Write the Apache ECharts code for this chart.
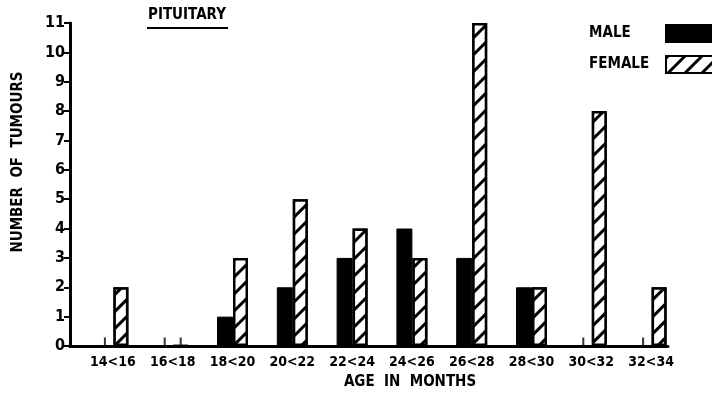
<!DOCTYPE html>
<html><head><meta charset="utf-8">
<script src="https://cdn.jsdelivr.net/npm/echarts@6/dist/echarts.min.js"></script>
<style>html,body{margin:0;padding:0;background:#fff}#c{width:712px;height:396px}</style>
</head><body><div id="c"></div>
<script>
const categories = ['14<16','16<18','18<20','20<22','22<24','24<26','26<28','28<30','30<32','32<34'];
const male =   [0,0,1,2,3,4,3,2,0,0];
const female = [2,0,3,5,4,3,11,2,8,2];
const yTicks = [0,1,2,3,4,5,6,7,8,9,10,11];

const FONT = "'DejaVu Sans Condensed','Liberation Sans Narrow','DejaVu Sans',sans-serif";
const chart = echarts.init(document.getElementById('c'));
const hatch = {symbol:'rect', symbolSize:1, dashArrayX:[1,0], dashArrayY:[3,9], rotation:-Math.PI/4, color:'#000', backgroundColor:'#fff'};

chart.setOption({
  animation:false,
  backgroundColor:'#fff',
  grid:[
    {left:83, right:31, top:23, bottom:50},
    {left:70, right:44, top:23, bottom:50}
  ],
  xAxis:[
    {type:'category', gridIndex:0, data:categories, axisLine:{show:false}, axisTick:{show:false},
     axisLabel:{margin:9, color:'#000', fontFamily:FONT, fontWeight:'bold', fontSize:14}},
    {type:'value', gridIndex:1, min:0, max:1, axisLine:{show:true, lineStyle:{color:'#000', width:3}},
     axisTick:{show:false}, axisLabel:{show:false}, splitLine:{show:false},
     name:'AGE  IN  MONTHS', nameLocation:'middle', nameGap:29,
     nameTextStyle:{color:'#000', fontFamily:FONT, fontWeight:'bold', fontSize:15, padding:[0,0,0,82]}}
  ],
  yAxis:[
    {type:'value', gridIndex:0, min:0, max:11, interval:1, show:false},
    {type:'value', gridIndex:1, min:0, max:11, interval:1,
     axisLine:{show:true, lineStyle:{color:'#000', width:3}},
     axisTick:{show:true, length:6, lineStyle:{color:'#000', width:2}},
     axisLabel:{margin:5, color:'#000', fontFamily:FONT, fontWeight:'bold', fontSize:16,
       formatter:v=>yTicks.includes(v)?String(v):''},
     splitLine:{show:false}}
  ],
  legend:{
    orient:'vertical', right:-12, top:19, align:'right', itemGap:12, itemWidth:52, itemHeight:17,
    icon:'rect',
    data:['MALE','FEMALE'],
    formatter:n=>'{t|'+n+'}',
    textStyle:{color:'#000', rich:{t:{width:72, align:'left', fontFamily:FONT, fontWeight:'bold', fontSize:15, color:'#000'}}}
  },
  graphic:[
    {type:'text', left:148, top:8, style:{text:'PITUITARY', fill:'#000', font:"bold 15px "+FONT}},
    {type:'line', shape:{x1:147,y1:28,x2:228,y2:28}, style:{stroke:'#000', lineWidth:2}},
    {type:'text', x:18, y:162, rotation:Math.PI/2, style:{text:'NUMBER  OF  TUMOURS', fill:'#000', font:"bold 15px "+FONT, align:'center', verticalAlign:'middle'}}
  ],
  series:[
    {name:'MALE', type:'bar', xAxisIndex:0, yAxisIndex:0, data:male, barWidth:16, barGap:'0%',
     itemStyle:{color:'#000', borderColor:'#000', borderWidth:1}},
    {name:'FEMALE', type:'bar', xAxisIndex:0, yAxisIndex:0, data:female, barWidth:15,
     itemStyle:{color:'#fff', borderColor:'#000', borderWidth:2.5, decal:hatch}},
    {type:'scatter', xAxisIndex:0, yAxisIndex:0, silent:true, symbol:'rect', symbolSize:[2,9], symbolOffset:[-8,-4],
     itemStyle:{color:'#000'}, data:male.map(v=>v===0?0:'-')},
    {type:'scatter', xAxisIndex:0, yAxisIndex:0, silent:true, symbol:'rect', symbolSize:[2,9], symbolOffset:[8,-4],
     itemStyle:{color:'#000'}, data:female.map(v=>v===0?0:'-')}
  ]
});
</script></body></html>
